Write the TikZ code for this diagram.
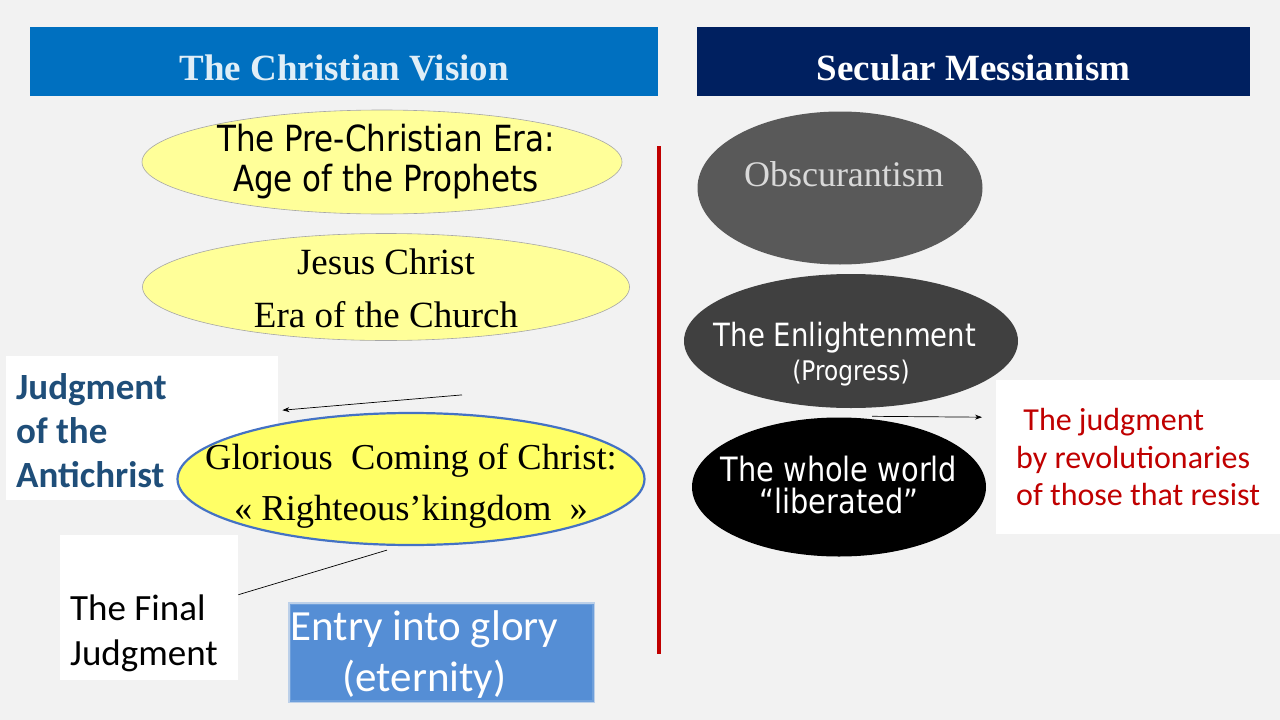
\documentclass[tikz,border=0pt]{standalone}
\usepackage{fontspec}
\setmainfont{Liberation Serif}
\newfontfamily\calibrifont{Carlito}
\newfontfamily\tahomafont[FakeStretch=0.86]{DejaVu Sans}
\usetikzlibrary{positioning, arrows.meta, shapes.geometric, calc}
\usepackage{xcolor}
\definecolor{slidebg}{RGB}{242, 242, 242}
\definecolor{visionblue}{RGB}{0, 112, 192}
\definecolor{secularnavy}{RGB}{0, 32, 96}
\definecolor{paleyellow}{RGB}{255, 255, 153}
\definecolor{brightyellow}{RGB}{255, 255, 102}
\definecolor{ringblue}{RGB}{68, 114, 196}
\definecolor{antichristblue}{RGB}{31, 78, 121}
\definecolor{glorybox}{RGB}{85, 142, 213}
\definecolor{judgered}{RGB}{192, 0, 0}

\begin{document}
\begin{tikzpicture}[x=1pt, y=-1pt, inner sep=0pt,
    header/.style={anchor=north west, minimum height=69pt, text=white,
      font=\fontsize{37}{40}\selectfont\bfseries, text height=38pt, text depth=0pt},
    era/.style={ellipse, draw=gray!70, fill=paleyellow, line width=0.6pt},
    secular/.style={ellipse, draw=none},
    whitebox/.style={fill=white, anchor=north west},
    thinarrow/.style={-{Stealth[length=7pt, width=5pt]}, line width=0.7pt}]

  \useasboundingbox[fill=slidebg] (0,0) rectangle (1280,720);

  % headers
  \node[header, fill=visionblue, minimum width=628pt, text=white!88!visionblue] (vision) at (30,27)
    {The Christian Vision};
  \node[header, fill=secularnavy, minimum width=553pt] (messianism) at (697,27)
    {Secular Messianism};

  % christian vision
  \node[whitebox, minimum width=272pt, minimum height=144pt] (antichrist) at (6,356) {};
  \node[anchor=west, align=left, text=antichristblue,
        font=\calibrifont\bfseries\fontsize{37}{44}\selectfont] (antichristtext)
    at ([xshift=10pt,yshift=-2pt]antichrist.west) {Judgment\\of the\\Antichrist};
  \node[whitebox, minimum width=178pt, minimum height=145pt] (final) at (60,535) {};
  \node[anchor=west, align=left, font=\calibrifont\fontsize{37}{45}\selectfont] (finaltext)
    at ([xshift=10pt,yshift=-26pt]final.west) {The Final\\Judgment};

  \node[era, minimum width=480pt, minimum height=104pt] (prophets) at (382,162) {};
  \node[align=center, font=\tahomafont\fontsize{36}{40}\selectfont] (prophetstext)
    at ([xshift=4pt]prophets.center) {The Pre-Christian Era:\\ Age of the Prophets};
  \node[era, minimum width=487pt, minimum height=107pt] (church) at (386,287) {};
  \node[align=center, font=\fontsize{37}{53}\selectfont] (churchtext) at ([yshift=-1pt]church.center)
    {Jesus Christ\\Era of the Church};
  \node[ellipse, draw=ringblue, fill=brightyellow, line width=2.2pt,
        minimum width=467pt, minimum height=132pt] (coming) at (411,479) {};
  \node[align=center, font=\fontsize{36.5}{51}\selectfont] (comingtext) at ([yshift=-7pt]coming.center)
    {Glorious\ \ Coming of Christ:\\ \guillemotleft\ Righteous'kingdom\ \ \guillemotright};

  \node[fill=glorybox, draw=glorybox!70, line width=3pt, draw opacity=0.5, anchor=north west,
        minimum width=304pt, minimum height=98pt] (glory) at (288,602) {};
  \node[align=center, text=white, font=\calibrifont\fontsize{43}{51}\selectfont] (glorytext)
    at ([xshift=-17pt,yshift=-2pt]glory.center) {Entry into glory\\(eternity)};

  \coordinate (antitail) at ($(coming.north)+(51,-17)$);
  \coordinate (antihead) at ($(antichrist.east)+(4,-18)$);
  \draw[thinarrow] (antitail) -- (antihead);
  \coordinate (finaltail) at ($(coming.south)+(-24,4)$);
  \coordinate (finalhead) at ($(final.east)+(0,-13)$);
  \draw[line width=0.7pt] (finaltail) -- (finalhead);

  % divider
  \coordinate (divtop) at (659,146);
  \coordinate (divbottom) at (659,654);
  \draw[judgered, line width=4.5pt] (divtop) -- (divbottom);

  % secular messianism
  \node[secular, fill=black!65, minimum width=285pt, minimum height=153pt] (obscurantism) at (840,188) {};
  \node[text=black!15, font=\fontsize{36}{40}\selectfont] (obscurantismtext)
    at ([xshift=4pt,yshift=14pt]obscurantism.center) {Obscurantism};
  \node[secular, fill=black!75, minimum width=334pt, minimum height=134pt] (enlightenment) at (851,341) {};
  \node[align=center, text=white, font=\tahomafont\fontsize{32}{34}\selectfont] (enlightenmenttext)
    at ([yshift=-13pt]enlightenment.center)
    {\hspace*{-12pt}The Enlightenment\\{\fontsize{27}{34}\selectfont(Progress)}};
  \node[secular, fill=black, minimum width=294pt, minimum height=139pt] (world) at (839,487) {};
  \node[align=center, text=white, font=\tahomafont\fontsize{33.5}{32}\selectfont] (worldtext)
    at ([yshift=2pt]world.center) {The whole world\\“liberated”};

  \node[whitebox, minimum width=284pt, minimum height=154pt] (revolution) at (996,380) {};
  \node[anchor=west, align=left, text=judgered, font=\calibrifont\fontsize{32}{37.5}\selectfont] (revolutiontext)
    at ([xshift=20pt,yshift=0pt]revolution.west)
    {\ The judgment\\by revolutionaries\\of those that resist};

  \coordinate (revtail) at ($(world.north)+(33,-1)$);
  \coordinate (revhead) at ($(revolution.west)+(-14,-40)$);
  \draw[thinarrow] (revtail) -- (revhead);
\end{tikzpicture}
\end{document}
